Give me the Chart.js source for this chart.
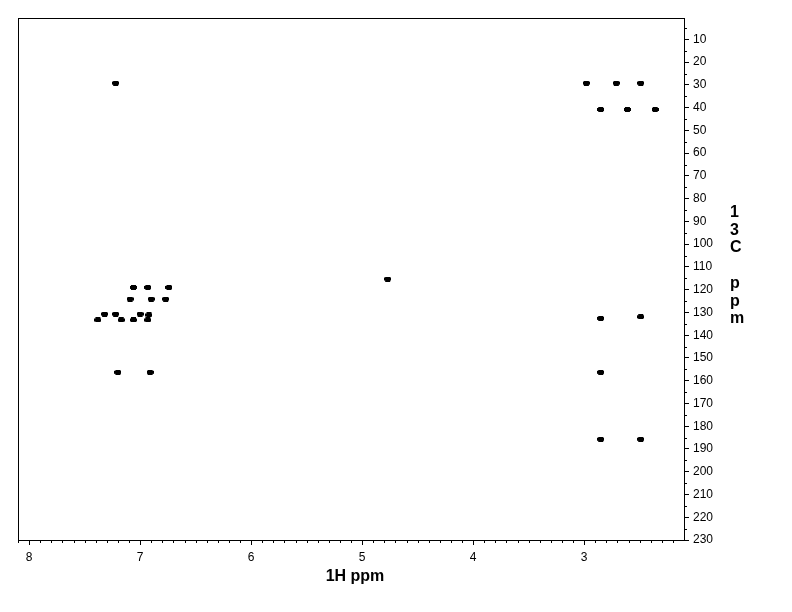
<!DOCTYPE html>
<html>
<head>
<meta charset="utf-8">
<script src="https://cdn.jsdelivr.net/npm/chart.js@4.4.1/dist/chart.umd.min.js"></script>
<style>
  body { margin: 0; background: #fff; }
  canvas { display: block; }
</style>
</head>
<body>
<canvas id="hmbc" width="792" height="612"></canvas>
<script>
// peak positions (1H shift, 13C shift)
const h1Shifts = [7.22, 2.98, 2.71, 2.49, 2.85, 2.61, 2.36,
                  7.06, 6.93, 6.74, 7.09, 6.90, 6.77,
                  7.32, 7.22, 7.00, 6.92, 7.38, 7.17, 7.06, 6.93,
                  7.20, 6.91, 4.77, 2.85, 2.49, 2.85, 2.85, 2.49]
const c13Shifts = [29.2, 29.2, 29.2, 29.2, 40.8, 40.8, 40.8,
                   119.0, 119.0, 119.0, 124.1, 124.1, 124.1,
                   130.7, 130.7, 130.7, 131.1, 133.3, 133.3, 133.3, 133.3,
                   156.3, 156.3, 115.3, 132.6, 131.9, 156.3, 185.7, 185.7]

const xTicks = [8, 7, 6, 5, 4, 3]
const yTicks = [10, 20, 30, 40, 50, 60, 70, 80, 90, 100, 110, 120, 130, 140, 150,
                160, 170, 180, 190, 200, 210, 220, 230]

const xTitle = '1H ppm'
const yTitle = '13C ppm'

Chart.defaults.font.family = 'Arial, "Liberation Sans", sans-serif'
Chart.defaults.color = '#000'

// small black blob used for every cross peak
const blob = document.createElement('canvas')
blob.width = 7
blob.height = 5
const bctx = blob.getContext('2d')
bctx.fillStyle = '#000'
bctx.fillRect(1, 0, 5, 5)
bctx.fillRect(0, 1, 7, 3)

const frame = {
    id: 'frame',
    afterDraw(chart) {
        const { ctx, chartArea: a, scales: { x, y } } = chart
        ctx.save()
        ctx.strokeStyle = '#000'
        ctx.lineWidth = 1
        ctx.strokeRect(a.left + 0.5, a.top + 0.5, a.right - a.left, a.bottom - a.top)

        // minor ticks
        ctx.beginPath()
        for (let k = 22; k <= 81; k++) {
            if (k % 10 === 0) continue
            const px = Math.round(x.getPixelForValue(k / 10)) + 0.5
            ctx.moveTo(px, a.bottom)
            ctx.lineTo(px, a.bottom + 3)
        }
        for (let v = 5; v <= 225; v += 10) {
            const py = Math.round(y.getPixelForValue(v)) + 0.5
            ctx.moveTo(a.right, py)
            ctx.lineTo(a.right + 3, py)
        }
        ctx.stroke()

        // axis titles
        ctx.fillStyle = '#000'
        ctx.font = 'bold 16px Arial, "Liberation Sans", sans-serif'
        ctx.textAlign = 'center'
        ctx.textBaseline = 'alphabetic'
        ctx.fillText(xTitle, 355, 581)

        ctx.textAlign = 'left'
        yTitle.split('').forEach((ch, i) => {
            ctx.fillText(ch, 730, 217 + i * 17.7)
        })
        ctx.restore()
    }
}

new Chart(
    document.getElementById('hmbc'),
    {
        type: 'scatter',
        data: {
            datasets: [
                {
                    label: 'HMBC',
                    data: h1Shifts.map((h, i) => ({ x: h, y: c13Shifts[i] })),
                    pointStyle: blob,
                    pointRadius: 3,
                    backgroundColor: '#000',
                    borderColor: '#000'
                }
            ]
        },
        options: {
            responsive: false,
            animation: false,
            layout: { padding: { left: 18, top: 18, right: 0, bottom: 0 } },
            plugins: {
                legend: { display: false },
                tooltip: { enabled: false }
            },
            scales: {
                x: {
                    type: 'linear',
                    min: 2.1,
                    max: 8.1,
                    reverse: true,
                    afterBuildTicks: s => { s.ticks = xTicks.map(v => ({ value: v })) },
                    afterFit: s => { s.height = 72 },
                    grid: { drawOnChartArea: false, drawTicks: true, tickLength: 5, color: '#000' },
                    border: { display: false },
                    ticks: { font: { size: 12 }, padding: 5, maxRotation: 0, autoSkip: false }
                },
                y: {
                    type: 'linear',
                    position: 'right',
                    min: 0.6,
                    max: 230,
                    reverse: true,
                    afterBuildTicks: s => { s.ticks = yTicks.map(v => ({ value: v })) },
                    afterFit: s => { s.width = 108 },
                    grid: { drawOnChartArea: false, drawTicks: true, tickLength: 5, color: '#000' },
                    border: { display: false },
                    ticks: { font: { size: 12 }, padding: 4, autoSkip: false }
                }
            }
        },
        plugins: [frame]
    }
);
</script>
</body>
</html>
